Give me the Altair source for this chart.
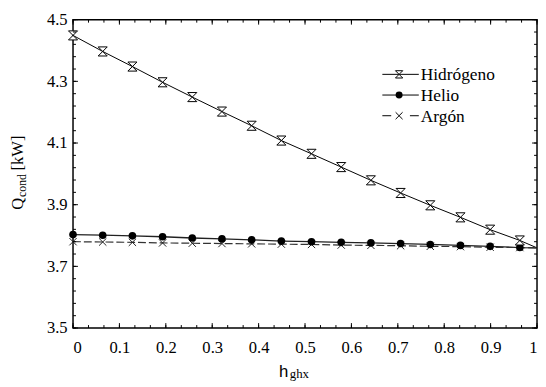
import altair as alt
import pandas as pd

# ---- data ----
x_vals = [0.0, 0.064, 0.128, 0.193, 0.257, 0.321, 0.385, 0.449, 0.514,
          0.578, 0.642, 0.706, 0.770, 0.835, 0.899, 0.963, 1.0]
hidrogeno = [4.449, 4.397, 4.348, 4.297, 4.249, 4.202, 4.156, 4.108, 4.065,
             4.022, 3.979, 3.938, 3.898, 3.859, 3.819, 3.784, 3.760]
helio = [3.803, 3.801, 3.799, 3.796, 3.792, 3.789, 3.786, 3.782, 3.780,
         3.778, 3.776, 3.774, 3.771, 3.768, 3.765, 3.761, 3.760]
argon = [3.780, 3.779, 3.778, 3.776, 3.775, 3.774, 3.773, 3.772, 3.771,
         3.769, 3.768, 3.767, 3.765, 3.764, 3.762, 3.761, 3.760]
has_marker = [True] * 16 + [False]

x_tick_labels = [0, 0.1, 0.2, 0.3, 0.4, 0.5, 0.6, 0.7, 0.8, 0.9, 1.0]
y_tick_labels = [3.5, 3.7, 3.9, 4.1, 4.3, 4.5]
x_minor = [i / 30 for i in range(31)]
y_minor = [3.5 + i * 0.04 for i in range(26)]

W, H = 471, 313
SERIF = "Times New Roman, Liberation Serif, serif"
SANS = "Liberation Sans"
FS = 16.8

df = pd.DataFrame({"x": x_vals, "h2": hidrogeno, "he": helio, "ar": argon,
                   "m": has_marker})
dfm = df[df["m"]]

xs = alt.Scale(domain=[0, 1], nice=False, zero=False)
ys = alt.Scale(domain=[3.5, 4.5], nice=False, zero=False)

xaxis = alt.Axis(values=x_tick_labels, format=".1~f", ticks=False, domain=False,
                 grid=False, title=None, labelFont=SERIF, labelFontSize=FS,
                 labelColor="black", labelPadding=12)
yaxis = alt.Axis(values=y_tick_labels, format=".1f", ticks=False, domain=False,
                 grid=False, title=None, labelFont=SERIF, labelFontSize=FS,
                 labelColor="black", labelPadding=6)

base = alt.Chart(df)

HOURGLASS = "M-1,-1L1,-1L-1,1L1,1Z"
XMARK = "M-1,-1L1,1M-1,1L1,-1"

line_h2 = base.mark_line(color="black", strokeWidth=1).encode(
    x=alt.X("x:Q", scale=xs, axis=xaxis), y=alt.Y("h2:Q", scale=ys, axis=yaxis))
line_he = base.mark_line(color="#222", strokeWidth=1.3).encode(
    x=alt.X("x:Q", scale=xs), y=alt.Y("he:Q", scale=ys))
line_ar = base.mark_line(color="#333", strokeWidth=1.2, strokeDash=[8, 3]).encode(
    x=alt.X("x:Q", scale=xs), y=alt.Y("ar:Q", scale=ys))

pts_ar = alt.Chart(dfm).mark_point(shape=XMARK, size=55, color="#222",
                                   strokeWidth=1, filled=False, opacity=1).encode(
    x=alt.X("x:Q", scale=xs), y=alt.Y("ar:Q", scale=ys))
pts_he = alt.Chart(dfm).mark_point(shape="circle", size=60, color="black",
                                   filled=True, opacity=1).encode(
    x=alt.X("x:Q", scale=xs), y=alt.Y("he:Q", scale=ys))
pts_h2 = alt.Chart(dfm).mark_point(shape=HOURGLASS, size=85, color="black",
                                   fill="white", strokeWidth=1, filled=False,
                                   opacity=1, fillOpacity=1).encode(
    x=alt.X("x:Q", scale=xs), y=alt.Y("h2:Q", scale=ys))

# ---- inward ticks on all four sides ----
xmaj = pd.DataFrame({"v": x_tick_labels})
xmin = pd.DataFrame({"v": x_minor})
ymaj = pd.DataFrame({"v": y_tick_labels})
ymin = pd.DataFrame({"v": y_minor})
tick_layers = []
for d, ln in [(xmaj, 5), (xmin, 3)]:
    tick_layers.append(alt.Chart(d).mark_rule(color="black", strokeWidth=1).encode(
        x=alt.X("v:Q", scale=xs), y=alt.value(H), y2=alt.value(H - ln)))
    tick_layers.append(alt.Chart(d).mark_rule(color="black", strokeWidth=1).encode(
        x=alt.X("v:Q", scale=xs), y=alt.value(0), y2=alt.value(ln)))
for d, ln in [(ymaj, 5), (ymin, 3)]:
    tick_layers.append(alt.Chart(d).mark_rule(color="black", strokeWidth=1).encode(
        y=alt.Y("v:Q", scale=ys), x=alt.value(0), x2=alt.value(ln)))
    tick_layers.append(alt.Chart(d).mark_rule(color="black", strokeWidth=1).encode(
        y=alt.Y("v:Q", scale=ys), x=alt.value(W), x2=alt.value(W - ln)))

# ---- legend (manual) ----
one = pd.DataFrame({"a": [0]})
leg_names = ["Hidrógeno", "Helio", "Argón"]
leg_y = [55.5, 76.5, 97.5]
lx0, lx1, lxm, ltx = 314, 351, 331, 353
legend_layers = []
for name, yy in zip(leg_names, leg_y):
    if name == "Argón":
        legend_layers.append(alt.Chart(one).mark_rule(color="black", strokeWidth=1).encode(
            x=alt.value(lx0), x2=alt.value(lx0 + 9), y=alt.value(yy)))
        legend_layers.append(alt.Chart(one).mark_rule(color="black", strokeWidth=1).encode(
            x=alt.value(lx1 - 9), x2=alt.value(lx1), y=alt.value(yy)))
        legend_layers.append(alt.Chart(one).mark_point(shape=XMARK, size=50, color="black",
                                                       strokeWidth=1, opacity=1).encode(
            x=alt.value(lxm), y=alt.value(yy)))
    else:
        legend_layers.append(alt.Chart(one).mark_rule(color="black", strokeWidth=1).encode(
            x=alt.value(lx0), x2=alt.value(lx1), y=alt.value(yy)))
        if name == "Helio":
            legend_layers.append(alt.Chart(one).mark_point(shape="circle", size=50,
                                                           color="black", filled=True,
                                                           opacity=1).encode(
                x=alt.value(lxm), y=alt.value(yy)))
        else:
            legend_layers.append(alt.Chart(one).mark_point(shape=HOURGLASS, size=55,
                                                           color="black", fill="white",
                                                           strokeWidth=1, opacity=1,
                                                           fillOpacity=1).encode(
                x=alt.value(lxm), y=alt.value(yy)))
    legend_layers.append(alt.Chart(one).mark_text(text=name, font=SERIF, fontSize=17.6,
                                                  align="left", baseline="middle",
                                                  color="black").encode(
        x=alt.value(ltx), y=alt.value(yy + 1)))

# ---- axis titles (with subscripts) ----
title_layers = [
    alt.Chart(one).mark_text(text="h", font=SANS, fontSize=17, align="left",
                             baseline="alphabetic", color="black").encode(
        x=alt.value(209), y=alt.value(363)),
    alt.Chart(one).mark_text(text="ghx", font=SERIF, fontSize=13, align="left",
                             baseline="alphabetic", color="black").encode(
        x=alt.value(220), y=alt.value(364)),
    alt.Chart(one).mark_text(text="Q", font=SERIF, fontSize=16.8, align="left",
                             baseline="alphabetic", angle=270, color="black").encode(
        x=alt.value(-51), y=alt.value(193)),
    alt.Chart(one).mark_text(text="cond", font=SERIF, fontSize=12, align="left",
                             baseline="alphabetic", angle=270, color="black").encode(
        x=alt.value(-48), y=alt.value(180)),
    alt.Chart(one).mark_text(text="[kW]", font=SERIF, fontSize=16.8, align="left",
                             baseline="alphabetic", angle=270, color="black").encode(
        x=alt.value(-51), y=alt.value(153)),
]

chart = alt.layer(
    line_h2, line_he, line_ar, pts_ar, pts_he, pts_h2,
    *tick_layers, *legend_layers, *title_layers
).properties(
    width=W, height=H,
    autosize=alt.AutoSizeParams(type="none"),
    padding={"left": 66, "top": 9, "right": 1, "bottom": 57},
    background="white",
).configure_view(stroke="black", strokeWidth=1.5)

chart.save("out.html", embed_options={"renderer": "svg", "actions": False})
